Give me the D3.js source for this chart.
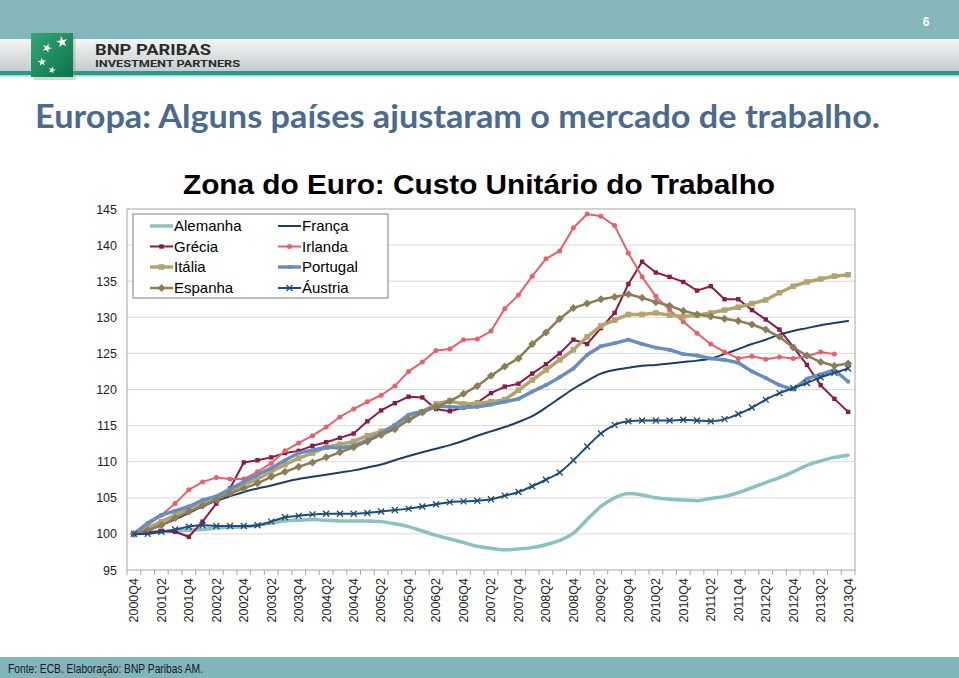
<!DOCTYPE html>
<html><head><meta charset="utf-8">
<script src="https://cdn.jsdelivr.net/npm/d3@7"></script>
<style>body{margin:0;background:#fff;} svg{display:block;}</style>
</head><body>
<svg id="c" width="959" height="678"></svg>
<script>
const quarters = ["2000Q4","2001Q1","2001Q2","2001Q3","2001Q4","2002Q1","2002Q2","2002Q3","2002Q4",
"2003Q1","2003Q2","2003Q3","2003Q4","2004Q1","2004Q2","2004Q3","2004Q4","2005Q1","2005Q2","2005Q3","2005Q4",
"2006Q1","2006Q2","2006Q3","2006Q4","2007Q1","2007Q2","2007Q3","2007Q4","2008Q1","2008Q2","2008Q3","2008Q4",
"2009Q1","2009Q2","2009Q3","2009Q4","2010Q1","2010Q2","2010Q3","2010Q4","2011Q1","2011Q2","2011Q3","2011Q4",
"2012Q1","2012Q2","2012Q3","2012Q4","2013Q1","2013Q2","2013Q3","2013Q4"];

const alemanha = [100,100.2,100.3,100.4,100.5,100.6,100.8,100.9,101.0,101.2,101.5,101.8,101.9,102.0,101.9,101.8,101.8,101.8,101.7,101.4,101.0,100.4,99.8,99.3,98.8,98.3,98.0,97.8,97.9,98.1,98.5,99.1,100.1,102.0,103.8,105.0,105.6,105.4,105.0,104.8,104.7,104.6,104.9,105.2,105.7,106.4,107.1,107.8,108.6,109.5,110.1,110.6,110.9];
const franca = [100,100.5,101.2,102.0,102.9,103.8,104.6,105.2,105.8,106.3,106.7,107.2,107.6,107.9,108.2,108.5,108.8,109.2,109.6,110.2,110.8,111.3,111.8,112.3,112.9,113.6,114.2,114.8,115.5,116.3,117.5,118.8,120.1,121.2,122.2,122.7,123.0,123.3,123.4,123.6,123.8,124.0,124.3,124.9,125.6,126.3,126.9,127.6,128.1,128.5,128.9,129.2,129.5];
const grecia = [100,100.2,100.4,100.3,99.6,101.7,104.2,106.3,109.9,110.2,110.6,111.2,111.5,112.2,112.7,113.3,113.9,115.6,117.1,118.1,119.0,118.9,117.3,117.0,117.5,118.2,119.5,120.4,120.8,122.2,123.5,125.0,126.9,126.3,128.5,130.6,134.6,137.7,136.2,135.6,134.9,133.7,134.3,132.5,132.5,131.0,129.7,128.3,125.9,123.4,120.6,118.7,116.9];
const irlanda = [100,101.2,102.6,104.2,106.1,107.2,107.8,107.6,107.6,108.6,109.8,111.5,112.6,113.6,114.8,116.2,117.3,118.3,119.2,120.5,122.5,123.8,125.4,125.6,126.9,127.0,128.1,131.2,133.1,135.7,138.1,139.2,142.4,144.3,144.0,142.7,138.9,135.6,132.9,131.0,129.4,127.8,126.3,125.2,124.3,124.6,124.2,124.5,124.3,124.6,125.2,124.9,null];
const italia = [100,100.8,101.7,102.6,103.6,104.3,104.9,105.9,106.8,107.6,108.6,109.6,110.5,111.2,112.0,112.4,112.8,113.6,114.2,114.9,115.8,116.9,118.0,118.4,118.0,118.1,118.3,118.6,119.9,121.3,122.7,124.1,125.5,127.3,128.8,129.6,130.4,130.4,130.6,130.3,130.1,130.3,130.6,131.0,131.4,131.9,132.4,133.4,134.3,134.9,135.3,135.7,135.9];
const portugal = [100,101.5,102.6,103.2,103.8,104.7,105.2,106.2,107.2,108.2,109.1,110.2,111.2,111.6,112.0,111.9,112.2,113.0,113.9,115.1,116.5,117.0,117.7,117.6,117.5,117.6,117.9,118.3,118.7,119.7,120.6,121.7,122.9,124.8,126.0,126.4,126.9,126.3,125.8,125.5,124.9,124.7,124.3,124.1,123.7,122.5,121.6,120.6,120.0,121.5,122.1,122.7,121.1];
const espanha = [100,100.5,101.2,102.2,103.1,103.9,104.7,105.6,106.3,107.0,107.9,108.6,109.3,109.9,110.6,111.3,112.0,112.8,113.7,114.5,115.8,116.8,117.6,118.4,119.4,120.5,121.9,123.2,124.3,126.3,127.9,129.8,131.3,131.9,132.5,132.8,133.2,132.7,132.1,131.6,130.9,130.4,130.1,129.8,129.5,129.0,128.3,127.3,125.8,124.7,123.8,123.3,123.6];
const austria = [100,100.0,100.3,100.6,101.0,101.2,101.1,101.1,101.1,101.2,101.7,102.3,102.5,102.7,102.8,102.8,102.8,102.9,103.1,103.3,103.5,103.8,104.1,104.4,104.5,104.6,104.8,105.3,105.8,106.6,107.5,108.5,110.2,112.1,113.9,115.1,115.6,115.7,115.7,115.7,115.8,115.7,115.6,115.9,116.6,117.5,118.6,119.5,120.2,120.9,121.7,122.3,122.9];

const seriesNames = ["Alemanha","França","Grécia","Irlanda","Itália","Portugal","Espanha","Áustria"];
const yTicks = [95,100,105,110,115,120,125,130,135,140,145];
const chartTitle = "Zona do Euro: Custo Unitário do Trabalho";
const pageTitle = "Europa: Alguns países ajustaram o mercado de trabalho.";
const sourceText = "Fonte: ECB. Elaboração: BNP Paribas AM.";

const styles = {
  "Alemanha": {color:"#8DC0C1", width:3.5, marker:null, smooth:true},
  "França":   {color:"#1A3E69", width:2,   marker:null, smooth:true},
  "Grécia":   {color:"#8C1A45", width:2,   marker:"square", size:2.2},
  "Irlanda":  {color:"#E9606C", width:2,   marker:"circle", size:2.5},
  "Itália":   {color:"#B3A36E", width:3.5, marker:"square", size:2.8},
  "Portugal": {color:"#6A8DC0", width:3.5, marker:"square", size:1.8},
  "Espanha":  {color:"#8A7E57", width:2.5, marker:"diamond", size:4},
  "Áustria":  {color:"#1D4C7A", width:2,   marker:"x", size:3, smooth:true}
};
const dataArrays = [alemanha, franca, grecia, irlanda, italia, portugal, espanha, austria];
const series = seriesNames.map((n,i)=>({name:n, values:dataArrays[i]}));

const svg = d3.select("#c");

// ---------- Header ----------
const defs = svg.append("defs");
const g1 = defs.append("linearGradient").attr("id","band").attr("x1",0).attr("y1",0).attr("x2",0).attr("y2",1);
g1.append("stop").attr("offset","0%").attr("stop-color","#F4F5F5");
g1.append("stop").attr("offset","100%").attr("stop-color","#C6CBCD");
const g2 = defs.append("linearGradient").attr("id","logo").attr("x1",0).attr("y1",0).attr("x2",1).attr("y2",1);
g2.append("stop").attr("offset","0%").attr("stop-color","#34A878");
g2.append("stop").attr("offset","100%").attr("stop-color","#0B7248");

svg.append("rect").attr("x",0).attr("y",0).attr("width",959).attr("height",39).attr("fill","#84B7BA");
svg.append("rect").attr("x",0).attr("y",39).attr("width",959).attr("height",32).attr("fill","url(#band)");
svg.append("rect").attr("x",0).attr("y",71).attr("width",959).attr("height",4).attr("fill","#2A9C86");
svg.append("rect").attr("x",0).attr("y",75).attr("width",959).attr("height",1.5).attr("fill","#A9D6CB");
svg.append("text").attr("x",926).attr("y",26).attr("text-anchor","middle")
  .attr("font-family","Arial, Liberation Sans, sans-serif").attr("font-weight","bold").attr("font-size",12)
  .attr("fill","#ffffff").text("6");
svg.append("rect").attr("x",32).attr("y",34).attr("width",42).attr("height",44).attr("fill","#7a8c88").attr("opacity",0.35).attr("transform","translate(1.5,2)");
svg.append("rect").attr("x",31).attr("y",33).attr("width",42).attr("height",44).attr("fill","url(#logo)");
const star = d3.symbol().type(d3.symbolStar);
[[62,42,40,-10],[47,48,26,20],[42,62,22,-5],[52,70,16,15]].forEach(([x,y,s,r])=>{
  svg.append("path").attr("d",star.size(s)()).attr("transform",`translate(${x},${y}) rotate(${r})`).attr("fill","#fff");
});
svg.append("text").attr("x",95).attr("y",54.5).attr("font-family","Liberation Sans Narrow, Arial Narrow, Roboto, sans-serif")
  .attr("font-weight","bold").attr("font-size",15.5).attr("fill","#2b2b2b").attr("textLength",116).attr("lengthAdjust","spacingAndGlyphs").text("BNP PARIBAS");
svg.append("text").attr("x",95).attr("y",67).attr("font-family","Liberation Sans Narrow, Arial Narrow, Roboto, sans-serif")
  .attr("font-weight","bold").attr("font-size",9.5).attr("fill","#2b2b2b").attr("textLength",145).attr("lengthAdjust","spacingAndGlyphs").text("INVESTMENT PARTNERS");

svg.append("text").attr("x",35).attr("y",128).attr("font-family","Lato, Open Sans, sans-serif").attr("font-weight","bold")
  .attr("font-size",32).attr("fill","#4B6A8E").attr("textLength",845).attr("lengthAdjust","spacingAndGlyphs").text(pageTitle);

svg.append("text").attr("x",183).attr("y",194).attr("font-family","Arial, Liberation Sans, sans-serif").attr("font-weight","bold")
  .attr("font-size",27).attr("fill","#000").attr("textLength",592).attr("lengthAdjust","spacingAndGlyphs").text(chartTitle);

// footer
svg.append("rect").attr("x",0).attr("y",657).attr("width",959).attr("height",21).attr("fill","#80B5B9");
svg.append("text").attr("x",8).attr("y",673).attr("font-family","Liberation Sans Narrow, Arial Narrow, Arial, sans-serif")
  .attr("font-size",13.5).attr("fill","#1a1a1a").attr("textLength",195).attr("lengthAdjust","spacingAndGlyphs").text(sourceText);

// ---------- Chart ----------
const L=127, R=855, T=209, B=570;
const x = d3.scaleBand().domain(quarters).range([L,R]).padding(0);
const cx = q => x(q) + x.bandwidth()/2;
const y = d3.scaleLinear().domain([95,145]).range([B,T]);

const grid = svg.append("g");
grid.selectAll("line").data(yTicks.filter(t=>t>95 && t<145)).join("line")
  .attr("x1",L).attr("x2",R).attr("y1",d=>y(d)).attr("y2",d=>y(d)).attr("stroke","#D9D9D9").attr("stroke-width",1);

svg.append("rect").attr("x",L).attr("y",T).attr("width",R-L).attr("height",B-T).attr("fill","none").attr("stroke","#A6A6A6").attr("stroke-width",1);

const yAxis = d3.axisLeft(y).tickValues(yTicks).tickSize(0).tickPadding(10);
const ya = svg.append("g").attr("transform",`translate(${L},0)`).call(yAxis);
ya.select(".domain").remove();
ya.selectAll("text").attr("font-family","Arial, Liberation Sans, sans-serif").attr("font-size",12.5).attr("fill","#222");

// x axis ticks at band boundaries
const xt = svg.append("g");
const bounds = quarters.map(q=>x(q)).concat([R]);
xt.selectAll("line").data(bounds).join("line").attr("x1",d=>d).attr("x2",d=>d).attr("y1",B).attr("y2",B+5).attr("stroke","#A6A6A6");
const xAxis = d3.axisBottom(x).tickValues(quarters.filter((q,i)=>i%2===0)).tickSize(0).tickPadding(0);
const xa = svg.append("g").attr("transform",`translate(0,${B})`).call(xAxis);
xa.select(".domain").remove();
xa.selectAll("text").attr("font-family","Arial, Liberation Sans, sans-serif").attr("font-size",12.5).attr("fill","#222")
  .attr("text-anchor","end").attr("dy","0.35em").attr("transform","translate(0,8) rotate(-90)").attr("x",0).attr("y",0);

// lines
const plot = svg.append("g");
series.forEach(s=>{
  const st = styles[s.name];
  const pts = s.values.map((v,i)=>({q:quarters[i], v}));
  const line = d3.line().defined(d=>d.v!==null).x(d=>cx(d.q)).y(d=>y(d.v))
     .curve(st.smooth ? d3.curveMonotoneX : d3.curveLinear);
  plot.append("path").datum(pts).attr("d",line).attr("fill","none").attr("stroke",st.color)
     .attr("stroke-width",st.width).attr("stroke-linejoin","round").attr("stroke-linecap","round");
  if (st.marker) {
    pts.filter(d=>d.v!==null).forEach(d=>drawMarker(plot, st, cx(d.q), y(d.v)));
  }
});

function drawMarker(g, st, px, py){
  const s = st.size;
  if (st.marker==="square") {
    g.append("rect").attr("x",px-s).attr("y",py-s).attr("width",2*s).attr("height",2*s).attr("fill",st.color);
  } else if (st.marker==="circle") {
    g.append("circle").attr("cx",px).attr("cy",py).attr("r",s).attr("fill",st.color);
  } else if (st.marker==="diamond") {
    g.append("path").attr("d",`M${px},${py-s}L${px+s},${py}L${px},${py+s}L${px-s},${py}Z`).attr("fill",st.color);
  } else if (st.marker==="x") {
    g.append("path").attr("d",`M${px-s},${py-s}L${px+s},${py+s}M${px-s},${py+s}L${px+s},${py-s}`)
      .attr("stroke",st.color).attr("stroke-width",1.3).attr("fill","none");
  }
}

// legend
const lg = svg.append("g");
lg.append("rect").attr("x",133).attr("y",214).attr("width",255).attr("height",84).attr("fill","#fff").attr("stroke","#7F7F7F").attr("stroke-width",1);
const rowsY = [226,246.5,267,288];
const colX = [150,278];
series.forEach((s,i)=>{
  const st = styles[s.name];
  const cxL = colX[i%2], cyL = rowsY[Math.floor(i/2)];
  lg.append("line").attr("x1",cxL).attr("x2",cxL+23).attr("y1",cyL).attr("y2",cyL).attr("stroke",st.color).attr("stroke-width",st.width);
  if (st.marker) drawMarker(lg, st, cxL+11.5, cyL);
  lg.append("text").attr("x",cxL+24).attr("y",cyL).attr("dy","0.36em").attr("font-family","Arial, Liberation Sans, sans-serif")
    .attr("font-size",15).attr("fill","#000").text(s.name);
});
</script>
</body></html>
